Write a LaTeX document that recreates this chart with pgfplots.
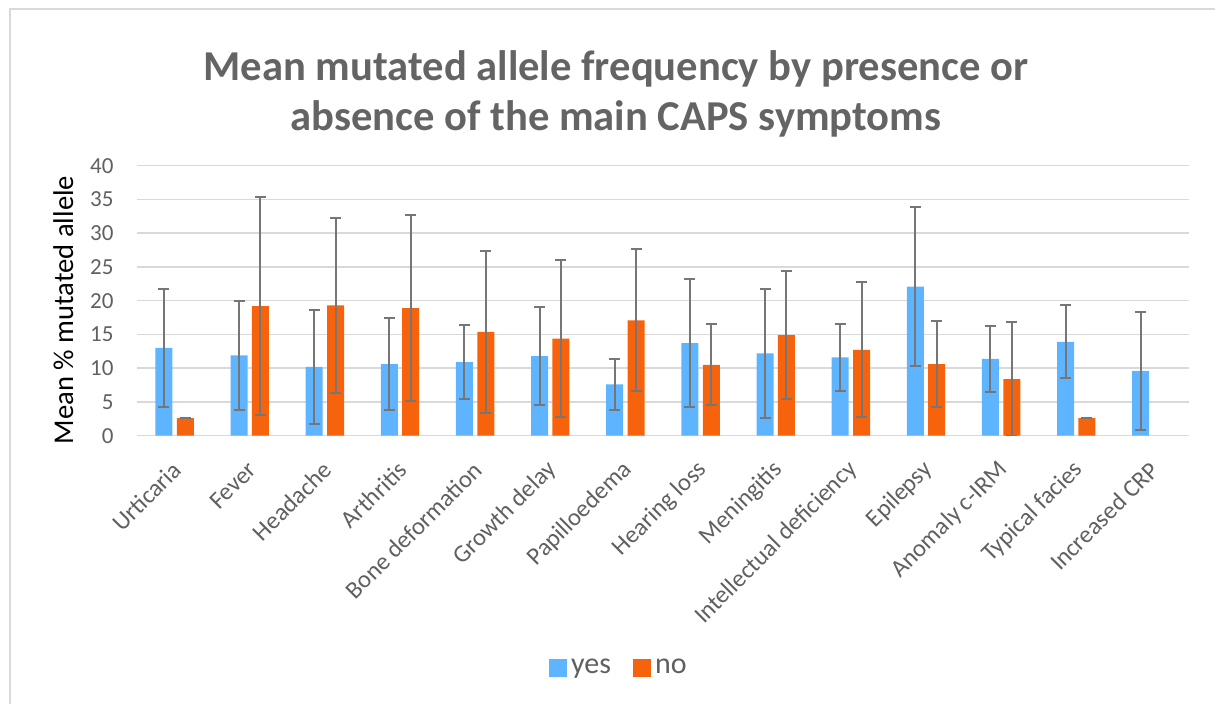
\documentclass[border=0pt]{standalone}
\usepackage{pgfplots}
\pgfplotsset{compat=1.18}
\usepackage{fontspec}
\setmainfont{Carlito}
\definecolor{yescol}{HTML}{5EB4FF}
\definecolor{nocol}{HTML}{F7630C}
\definecolor{txtgray}{HTML}{606060}
\definecolor{titlegray}{HTML}{646464}
\definecolor{gridgray}{HTML}{D9D9D9}
\definecolor{errgray}{HTML}{767676}
\begin{document}
\begin{tikzpicture}
\useasboundingbox (0bp,0bp) rectangle (607.5bp,-352bp);
% chart border
\draw[gridgray, line width=1bp] (5bp,-360bp) -- (5bp,-4.5bp) -- (620bp,-4.5bp);
% title
\node[anchor=base, text=titlegray, font=\fontsize{21.3bp}{25bp}\selectfont\bfseries] at (308bp,-40.35bp) {Mean mutated allele frequency by presence or};
\node[anchor=base, text=titlegray, font=\fontsize{21.3bp}{25bp}\selectfont\bfseries] at (308bp,-65bp) {absence of the main CAPS symptoms};
% y label
\node[anchor=base, rotate=90, text=black, font=\fontsize{14.3bp}{17bp}\selectfont] at (36.5bp,-155bp) {Mean \% mutated allele};
\begin{axis}[
  at={(68.5bp,-217.85bp)}, anchor=south west,
  scale only axis, width=526bp, height=135bp,
  ybar=2.2bp, bar width=8.5bp,
  xmin=-0.5, xmax=13.5, ymin=0, ymax=40,
  ytick={0,5,...,40},
  xtick={0,...,13},
  xticklabels={Urticaria,Fever,Headache,Arthritis,Bone deformation,Growth delay,Papilloedema,Hearing loss,Meningitis,Intellectual deficiency,Epilepsy,Anomaly c-IRM,Typical facies,Increased CRP},
  separate axis lines,
  axis x line*=bottom, axis y line*=left,
  y axis line style={draw=none},
  x axis line style={draw=gridgray, line width=0.75bp},
  major tick length=0pt,
  ymajorgrids, major grid style={draw=gridgray, line width=0.75bp},
  /pgf/number format/assume math mode=true,
  tick label style={text=txtgray},
  yticklabel style={anchor=east, xshift=-8.2bp, font=\fontsize{11.5bp}{13bp}\selectfont},
  xticklabel style={rotate=45, anchor=east, xshift=-6.3bp, yshift=-11.65bp, font=\fontsize{12.3bp}{14bp}\selectfont},
  legend style={at={(0.459,-0.861)}, anchor=center, draw=none, fill=none,
    legend columns=-1, font=\fontsize{15bp}{18bp}\selectfont, text=txtgray,
    /tikz/every even column/.append style={column sep=9bp}},
  legend image code/.code={\fill[#1] (-1.5bp,-4.5bp) rectangle (7.5bp,4.5bp);},
  error bars/y dir=both, error bars/y explicit,
  error bars/error bar style={errgray, line width=1bp},
  error bars/error mark options={errgray, line width=1bp, mark size=2.75bp, rotate=90},
]
\addplot[fill=yescol, draw=none] coordinates {
 (0,13.0) +- (0,8.8)
 (1,11.9) +- (0,8.1)
 (2,10.2) +- (0,8.4)
 (3,10.6) +- (0,6.8)
 (4,10.9) +- (0,5.5)
 (5,11.8) +- (0,7.2)
 (6,7.6) +- (0,3.8)
 (7,13.7) +- (0,9.5)
 (8,12.2) +- (0,9.6)
 (9,11.6) +- (0,5.0)
 (10,22.1) +- (0,11.8)
 (11,11.4) +- (0,4.9)
 (12,13.9) +- (0,5.4)
 (13,9.6) +- (0,8.8)
};
\addlegendentry{yes}
\addplot[fill=nocol, draw=none] coordinates {
 (0,2.6) +- (0,0)
 (1,19.2) +- (0,16.2)
 (2,19.3) +- (0,12.95)
 (3,18.9) +- (0,13.8)
 (4,15.4) +- (0,12.0)
 (5,14.4) +- (0,11.7)
 (6,17.1) +- (0,10.5)
 (7,10.5) +- (0,6.0)
 (8,14.9) +- (0,9.5)
 (9,12.7) +- (0,10.0)
 (10,10.6) +- (0,6.4)
 (11,8.4) +- (0,8.4)
 (12,2.6) +- (0,0)
};
\addlegendentry{no}
\end{axis}
\end{tikzpicture}
\end{document}
